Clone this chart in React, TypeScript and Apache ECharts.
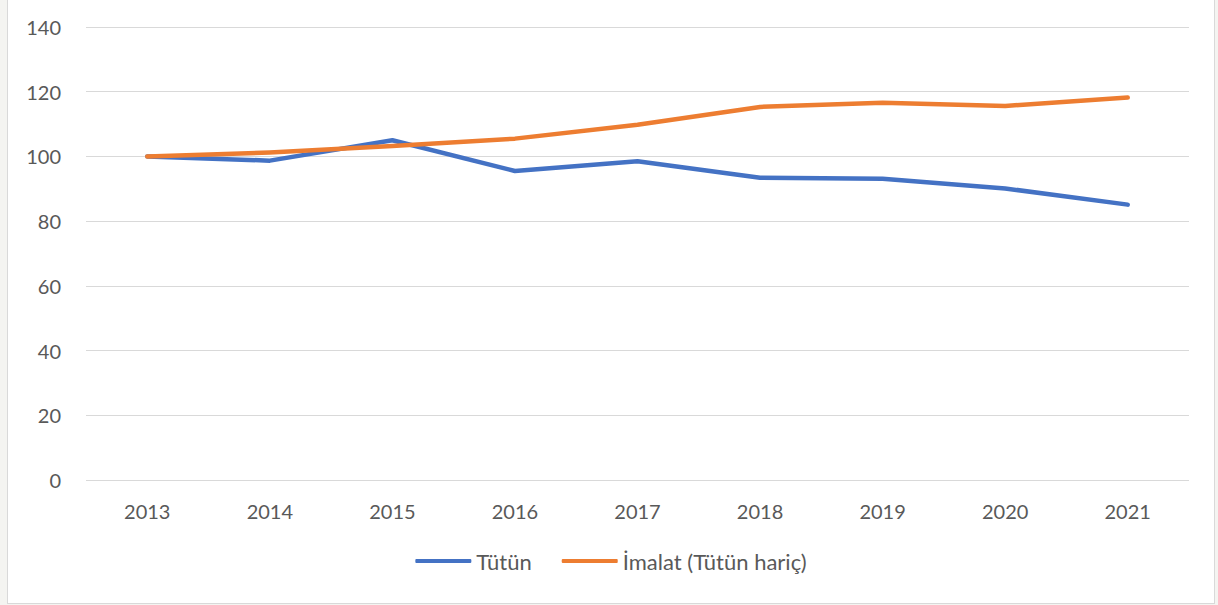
import React, { useEffect, useRef } from "react";
import * as echarts from "echarts";

const years = ["2013", "2014", "2015", "2016", "2017", "2018", "2019", "2020", "2021"];
const tutun = [100, 98.7, 105, 95.5, 98.5, 93.4, 93.1, 90.1, 85.1];
const imalat = [100, 101.2, 103.2, 105.5, 109.8, 115.3, 116.6, 115.6, 118.2];
const seriesNames = ["Tütün", "İmalat (Tütün hariç)"];

export default function App() {
  const ref = useRef<HTMLDivElement>(null);
  useEffect(() => {
    document.body.style.margin = "0";
    const chart = echarts.init(ref.current!, null, { renderer: "svg" });
    const font = "Lato, 'Open Sans', sans-serif";
    chart.setOption({
      animation: false,
      textStyle: { fontFamily: font },
      grid: { left: 78, right: 25, top: 28, bottom: 123 },
      legend: {
        bottom: 26,
        left: "center",
        itemWidth: 56,
        itemHeight: 4,
        itemGap: 30,
        icon: "roundRect",
        textStyle: { color: "#595959", fontSize: 22, fontFamily: font },
        data: seriesNames,
      },
      xAxis: {
        type: "category",
        data: years,
        boundaryGap: true,
        axisLine: { show: false },
        axisTick: { show: false },
        axisLabel: { color: "#595959", fontSize: 20, margin: 21, fontFamily: font },
      },
      yAxis: {
        type: "value",
        min: 0,
        max: 140,
        interval: 20,
        axisLine: { show: false },
        axisTick: { show: false },
        splitLine: { lineStyle: { color: "#d9d9d9", width: 1 } },
        axisLabel: { color: "#595959", fontSize: 20, margin: 25, fontFamily: font },
      },
      series: [
        {
          name: seriesNames[0],
          type: "line",
          data: tutun,
          symbol: "none",
          lineStyle: { color: "#4472C4", width: 4.5, cap: "round", join: "round" },
          itemStyle: { color: "#4472C4" },
        },
        {
          name: seriesNames[1],
          type: "line",
          data: imalat,
          symbol: "none",
          lineStyle: { color: "#ED7D31", width: 4.5, cap: "round", join: "round" },
          itemStyle: { color: "#ED7D31" },
        },
      ],
    });
    return () => chart.dispose();
  }, []);
  return (
    <div style={{ width: 1218, height: 605, background: "#f4f4f1", position: "relative", overflow: "hidden" }}>
      <div
        style={{
          position: "absolute",
          left: 7,
          top: -2,
          width: 1206,
          height: 604,
          background: "#ffffff",
          border: "1.5px solid #d9d9d9",
        }}
      >
        <div ref={ref} style={{ width: 1206, height: 604 }} />
      </div>
    </div>
  );
}
